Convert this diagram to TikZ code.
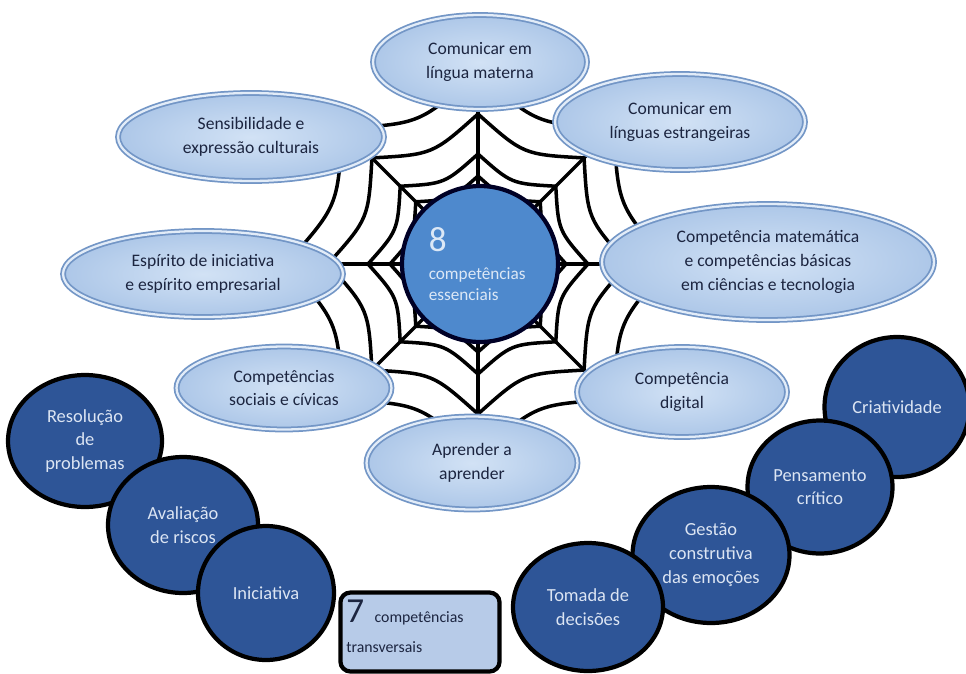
\documentclass[tikz,border=0pt]{standalone}
\usepackage{fontspec}
\setmainfont{Carlito}
\usetikzlibrary{shapes.geometric}
\definecolor{ovalin}{HTML}{D2E2F5}
\definecolor{ovalout}{HTML}{ADC7E8}
\definecolor{ovalrim}{HTML}{7396C6}
\definecolor{ovalhi}{HTML}{E2ECF8}
\definecolor{ovaltext}{HTML}{1C2540}
\definecolor{corefill}{HTML}{4E89CD}
\definecolor{coretext}{HTML}{DCE8F6}
\definecolor{softfill}{HTML}{2E5597}
\definecolor{softtext}{HTML}{DCE5F3}
\definecolor{boxfill}{HTML}{B7CBE8}
\begin{document}
\begin{tikzpicture}[
      x=0.02cm, y=-0.02cm,
      web/.style={line width=2pt,draw=black,line cap=round},
      oval/.style={ellipse,align=center,inner sep=0pt,
        draw=ovalrim,line width=1pt,double=ovalhi,double distance=1.3pt,
        inner color=ovalin,outer color=ovalout,text=ovaltext,
        font=\fontsize{10}{13.5}\selectfont},
      core/.style={circle,minimum size=3.12cm,inner sep=0pt,fill=corefill,
        draw=black!85!blue,line width=2.4pt,text=coretext,align=left,
        text width=2.05cm,font=\fontsize{9.8}{12}\selectfont},
      soft/.style={ellipse,align=center,inner sep=0pt,fill=softfill,draw=black,
        line width=2.4pt,text=softtext,font=\fontsize{10.5}{13.5}\selectfont},
      transbox/.style={rectangle,rounded corners=0.2cm,fill=boxfill,draw=black,
        line width=2.4pt,text=ovaltext,align=left,
        font=\fontsize{9}{11}\selectfont},
      ]
      \useasboundingbox (0,0) rectangle (966,673);
      % the web
      \begin{scope}[shift={(478,264)}]
        \foreach \a in {0,45,...,315}
          \draw[web] (0,0) -- (\a:230);
        \foreach \r in {88,110,150,192}
          \foreach \a in {0,45,...,315}
            \draw[web] (\a:\r) .. controls ({\a+22.5}:{0.79*\r}) .. ({\a+45}:\r);
      \end{scope}
      % the eight key competences
      \node[oval,minimum width=4.28cm,minimum height=1.88cm] (lingua) at (480,62) {Comunicar em\\língua materna};
      \node[oval,minimum width=5.0cm,minimum height=1.92cm] (estrang) at (680,122) {Comunicar em\\línguas estrangeiras};
      \node[oval,minimum width=5.32cm,minimum height=1.76cm] (sensib) at (251,137) {Sensibilidade e\\expressão culturais};
      \node[oval,minimum width=5.6cm,minimum height=1.72cm] (espirito) at (203,274) {Espírito de iniciativa\\e espírito empresarial};
      \node[oval,minimum width=6.64cm,minimum height=2.32cm] (matem) at (768,262) {Competência matemática\\e competências básicas\\em ciências e tecnologia};
      \node[oval,minimum width=4.3cm,minimum height=1.66cm] (sociais) at (284,388) {Competências\\sociais e cívicas};
      \node[oval,minimum width=4.2cm,minimum height=1.8cm] (digital) at (682,392) {Competência\\digital};
      \node[oval,minimum width=4.22cm,minimum height=1.86cm] (aprender) at (472,463) {Aprender a\\aprender};
      \node[core] (core) at (480,264) {{\fontsize{20}{20}\selectfont 8}\\[4pt]competências\\essenciais};
      % the seven transversal competences
      \node[soft,minimum width=3.08cm,minimum height=2.64cm] (resol) at (85,441) {Resolução\\de\\problemas};
      \node[soft,minimum width=3.0cm,minimum height=2.72cm] (aval) at (183,525) {Avaliação\\de riscos};
      \node[soft,minimum width=2.72cm,minimum height=2.68cm] (inic) at (266,593) {Iniciativa};
      \node[soft,minimum width=2.9cm,minimum height=2.8cm] (criat) at (897,407) {Criatividade};
      \node[soft,minimum width=2.9cm,minimum height=2.66cm] (pensam) at (820,487) {Pensamento\\crítico};
      \node[soft,minimum width=3.14cm,minimum height=2.72cm] (gestao) at (711,555) {Gestão\\construtiva\\das emoções};
      \node[soft,minimum width=3.0cm,minimum height=2.56cm] (tomada) at (588,607) {Tomada de\\decisões};
      \node[transbox,minimum width=3.18cm,minimum height=1.58cm,text width=2.95cm] (transv) at (420,632) {{\fontsize{20}{20}\selectfont 7}\hspace{6pt}competências\\[6pt]transversais\\[-4pt]\mbox{}};
\end{tikzpicture}
\end{document}
